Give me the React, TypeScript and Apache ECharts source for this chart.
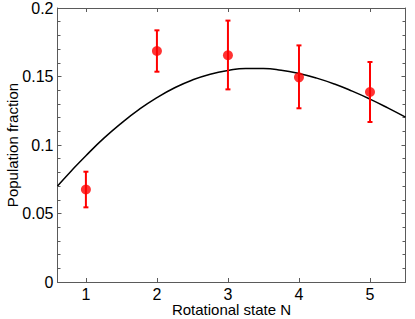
import React, { useEffect, useRef } from "react";
import * as echarts from "echarts";

const states = [1, 2, 3, 4, 5];
const fractions = [0.0675, 0.1686, 0.1655, 0.1494, 0.1387];
const errLow = [0.0545, 0.1535, 0.1406, 0.1268, 0.1168];
const errHigh = [0.0805, 0.1837, 0.1908, 0.1727, 0.1606];

const fitN = [0.6, 0.8, 1.0, 1.25, 1.5, 1.75, 2.0, 2.25, 2.5, 2.75, 3.0, 3.25, 3.5, 3.75, 4.0, 4.25, 4.5, 4.75, 5.0, 5.25, 5.5];
const fitFraction = [0.07, 0.0814, 0.0922, 0.1048, 0.116, 0.126, 0.1346, 0.1418, 0.1475, 0.1517, 0.1544, 0.1558, 0.1558, 0.1546, 0.1522, 0.1488, 0.1445, 0.1393, 0.1335, 0.1271, 0.1203];

const yTicks = ["0", "0.05", "0.1", "0.15", "0.2"];

const FONT = "Liberation Sans, Arial, sans-serif";
const AXIS_COLOR = "#5a5a5a";

export default function App() {
  const ref = useRef<HTMLDivElement>(null);
  useEffect(() => {
    document.body.style.margin = "0";
    if (!ref.current) return;
    const chart = echarts.init(ref.current, undefined, { renderer: "svg" });
    const axisLine = { show: true, onZero: false, lineStyle: { color: AXIS_COLOR, width: 1 } };
    const intLabel = (v: number) => (Math.abs(v - Math.round(v)) < 1e-9 ? String(Math.round(v)) : "");
    const yLabel = (v: number) => {
      const idx = Math.round(v / 0.05);
      return Math.abs(v - idx * 0.05) < 1e-9 ? yTicks[idx] ?? "" : "";
    };
    chart.setOption({
      animation: false,
      grid: { left: 57.5, right: 9.5, top: 8, bottom: 37, containLabel: false, outerBoundsMode: "none" },
      xAxis: [
        {
          type: "value",
          position: "bottom",
          min: 0.6,
          max: 5.5,
          splitNumber: 5,
          axisLine,
          axisTick: { show: true, inside: true, length: 4 },
          axisLabel: { show: true, formatter: intLabel, color: "#000", fontSize: 16, fontFamily: FONT, margin: 4, showMinLabel: false, showMaxLabel: false },
          splitLine: { show: false },
          name: "Rotational state N",
          nameLocation: "middle",
          nameGap: 20,
          nameMoveOverlap: false,
          nameTextStyle: { color: "#000", fontSize: 15, fontFamily: FONT },
        },
        {
          type: "value",
          position: "top",
          min: 0.6,
          max: 5.5,
          splitNumber: 5,
          axisLine,
          axisTick: { show: true, inside: true, length: 4 },
          axisLabel: { show: false },
          splitLine: { show: false },
        },
      ],
      yAxis: [
        {
          type: "value",
          position: "left",
          min: 0,
          max: 0.2,
          interval: 0.05,
          axisLine,
          axisTick: { show: true, inside: true, length: 4 },
          minorTick: { show: true, splitNumber: 5, length: 3 },
          axisLabel: { show: true, formatter: yLabel, color: "#000", fontSize: 16, fontFamily: FONT, margin: 4 },
          splitLine: { show: false },
          name: "Population fraction",
          nameLocation: "middle",
          nameGap: 38,
          nameMoveOverlap: false,
          nameTextStyle: { color: "#000", fontSize: 15, fontFamily: FONT },
        },
        {
          type: "value",
          position: "right",
          min: 0,
          max: 0.2,
          interval: 0.05,
          axisLine,
          axisTick: { show: true, inside: true, length: 4 },
          minorTick: { show: true, splitNumber: 5, length: 3 },
          axisLabel: { show: false },
          splitLine: { show: false },
        },
      ],
      series: [
        {
          type: "line",
          xAxisIndex: 0,
          yAxisIndex: 0,
          data: fitN.map((n, i) => [n, fitFraction[i]]),
          smooth: true,
          showSymbol: false,
          lineStyle: { color: "#000", width: 1.5 },
          z: 1,
        },
        {
          type: "custom",
          xAxisIndex: 0,
          yAxisIndex: 0,
          data: states.map((n, i) => [n, errLow[i], errHigh[i]]),
          encode: { x: 0, y: [1, 2] },
          renderItem: (_params: any, api: any) => {
            const x = api.value(0);
            const p1 = api.coord([x, api.value(1)]);
            const p2 = api.coord([x, api.value(2)]);
            const w = 2.5;
            const style = { stroke: "#ff0000", lineWidth: 2 };
            return {
              type: "group",
              children: [
                { type: "line", shape: { x1: p1[0], y1: p1[1], x2: p2[0], y2: p2[1] }, style },
                { type: "line", shape: { x1: p1[0] - w, y1: p1[1], x2: p1[0] + w, y2: p1[1] }, style },
                { type: "line", shape: { x1: p2[0] - w, y1: p2[1], x2: p2[0] + w, y2: p2[1] }, style },
              ],
            };
          },
          z: 2,
        },
        {
          type: "scatter",
          xAxisIndex: 0,
          yAxisIndex: 0,
          data: states.map((n, i) => [n, fractions[i]]),
          symbol: "circle",
          symbolSize: 10,
          itemStyle: { color: "#ff0000" },
          z: 3,
        },
      ],
    });
    return () => chart.dispose();
  }, []);
  return <div ref={ref} style={{ width: 415, height: 319 }} />;
}
